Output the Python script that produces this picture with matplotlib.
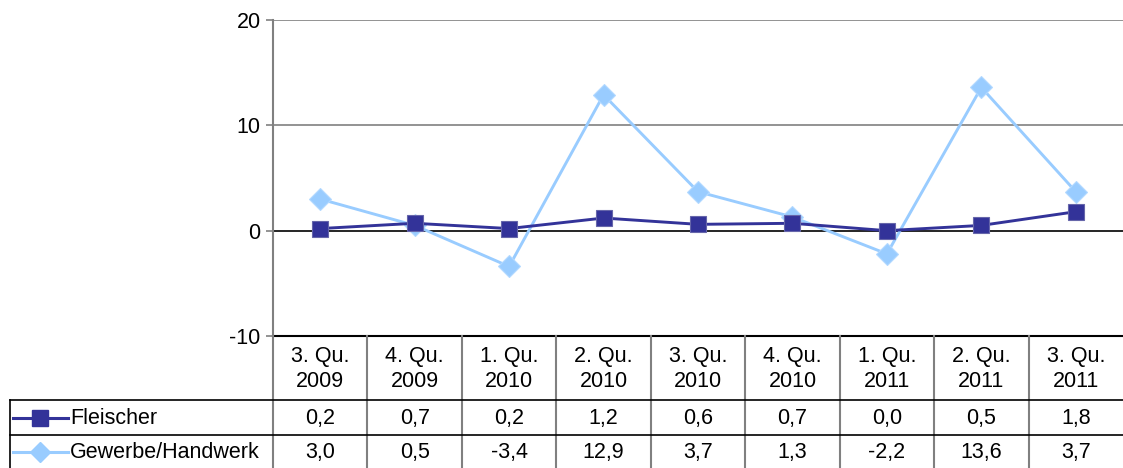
import numpy as np
import matplotlib
matplotlib.use("Agg")
import matplotlib.pyplot as plt

plt.rcParams["font.family"] = ["Liberation Sans", "DejaVu Sans"]

# Quarterly changes in percent
quarters = ["3. Qu.\n2009", "4. Qu.\n2009", "1. Qu.\n2010", "2. Qu.\n2010",
            "3. Qu.\n2010", "4. Qu.\n2010", "1. Qu.\n2011", "2. Qu.\n2011",
            "3. Qu.\n2011"]
fleischer = [0.2, 0.7, 0.2, 1.2, 0.6, 0.7, 0.0, 0.5, 1.8]
gewerbe = [3.0, 0.5, -3.4, 12.9, 3.7, 1.3, -2.2, 13.6, 3.7]
series_names = ["Fleischer", "Gewerbe/Handwerk"]
y_ticks = [-10, 0, 10, 20]

c_fl = "#333399"
c_gw = "#99CCFF"
grey = "#808080"
FS = 15.5

W, H = 1123, 468
fig = plt.figure(figsize=(W / 100, H / 100), dpi=100)

x0 = 273
y_top, y_axis_bot = 20, 336
ax = fig.add_axes([x0 / W, (H - y_axis_bot) / H, (W - x0) / W, (y_axis_bot - y_top) / H])
tab = fig.add_axes([x0 / W, 0, (W - x0) / W, (H - y_axis_bot) / H], sharex=ax)

n = len(quarters)
x = np.arange(n) + 0.5
ax.set_xlim(0, n)
ax.set_ylim(-10, 20)

for s in ["top", "right", "bottom"]:
    ax.spines[s].set_visible(False)
ax.spines["left"].set_color(grey)
ax.spines["left"].set_linewidth(1.5)
ax.set_yticks(y_ticks)
ax.set_yticklabels([str(t) for t in y_ticks], fontsize=FS)
ax.tick_params(axis="y", length=5, width=1.2, color=grey, pad=4)
ax.tick_params(axis="x", bottom=False, labelbottom=False)

for t in [10, 20]:
    ax.axhline(t, color=grey, lw=1.2, zorder=1)
ax.axhline(0, color="black", lw=1.2, zorder=1)
ax.axhline(-10, color="black", lw=1.5, zorder=1, clip_on=False)

ax.plot(x, gewerbe, color=c_gw, lw=2.1, marker="D", ms=10.8,
        mfc=c_gw, mec="#b3d9ff", mew=0.8, zorder=3)
ax.plot(x, fleischer, color=c_fl, lw=2.1, marker="s", ms=11,
        mfc=c_fl, mec="#6666aa", mew=0.8, zorder=4)

# data table below the plot
tab.set_ylim(132, 0)
tab.axis("off")
left_edge = -(x0 - 10) / ((W - x0) / n)
r1, r2 = 64, 99
for b in range(1, n):
    tab.plot([b, b], [0, 132], color=grey, lw=1.5, clip_on=False)
tab.plot([0, 0], [0, 132], color=grey, lw=1.5, clip_on=False)
for yy in [r1, r2]:
    tab.plot([left_edge, n], [yy, yy], color="black", lw=1.2, clip_on=False)
tab.plot([left_edge, left_edge], [r1, 132], color="black", lw=1.2, clip_on=False)

def fmt(v):
    return f"{v:.1f}".replace(".", ",")

for i in range(n):
    tab.text(x[i], r1 / 2 + 1, quarters[i], ha="center", va="center",
             fontsize=FS, linespacing=1.25)
    tab.text(x[i], (r1 + r2) / 2 + 1, fmt(fleischer[i]), ha="center", va="center", fontsize=FS)
    tab.text(x[i], (r2 + 132) / 2 + 1, fmt(gewerbe[i]), ha="center", va="center", fontsize=FS)

# legend keys inside the table's first column
unit = (W - x0) / n
def px2x(px):
    return (px - x0) / unit

for yy, col, mk, ms, name in [((r1 + r2) / 2, c_fl, "s", 11, series_names[0]),
                              ((r2 + 132) / 2, c_gw, "D", 10.5, series_names[1])]:
    tab.plot([px2x(13), px2x(68)], [yy, yy], color=col, lw=2.2, clip_on=False)
    tab.plot([px2x(40)], [yy], color=col, marker=mk, ms=ms, mfc=col, mec=col, clip_on=False)
    tab.text(px2x(70), yy + 1, name, ha="left", va="center", fontsize=FS)

fig.savefig("out.png", dpi=100)
